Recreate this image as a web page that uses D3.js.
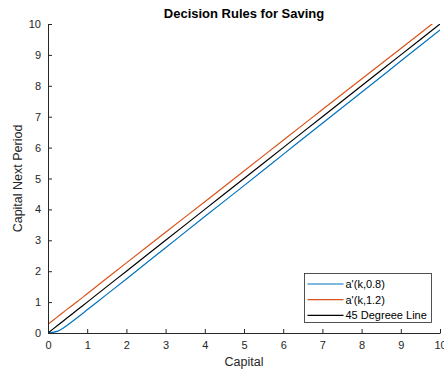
<!DOCTYPE html>
<html>
<head>
<meta charset="utf-8">
<script src="https://cdn.jsdelivr.net/npm/d3@7"></script>
<style>
  html, body { margin: 0; padding: 0; background: #fff; }
  svg { display: block; font-family: "Liberation Sans", Arial, Helvetica, sans-serif; }
</style>
</head>
<body>
<svg id="chart" width="444" height="376"></svg>
<script>
// Capital grid and the two saving decision rules a'(k, z)
const capital   = [0, 0.25, 0.5, 0.75, 1, 1.5, 2, 3, 4, 5, 6, 7, 8, 9, 10];
const ruleLow   = [0, 0.06, 0.26, 0.50, 0.75, 1.25, 1.75, 2.76, 3.77, 4.77, 5.78, 6.79, 7.79, 8.80, 9.81];
const ruleHigh  = [0.28, 0.53, 0.78, 1.02, 1.27, 1.77, 2.27, 3.26, 4.25, 5.24, 6.24, 7.23, 8.22, 9.21, 10.20];
const diagonal  = [0, 0.25, 0.5, 0.75, 1, 1.5, 2, 3, 4, 5, 6, 7, 8, 9, 10];

const seriesNames  = ["a'(k,0.8)", "a'(k,1.2)", "45 Degreee Line"];
const seriesColors = ["#0072BD", "#D95319", "#000000"];
const xTicks = [0, 1, 2, 3, 4, 5, 6, 7, 8, 9, 10];
const yTicks = [0, 1, 2, 3, 4, 5, 6, 7, 8, 9, 10];

const svg = d3.select("#chart");
const plot = { left: 48, right: 440, top: 24, bottom: 333 };
const axisColor = "#262626";

const x = d3.scaleLinear().domain([0, 10]).range([plot.left, plot.right]);
const y = d3.scaleLinear().domain([0, 10]).range([plot.bottom, plot.top]);

svg.append("rect").attr("width", 444).attr("height", 376).attr("fill", "#fff");

svg.append("defs").append("clipPath").attr("id", "plotClip")
  .append("rect")
  .attr("x", plot.left).attr("y", plot.top)
  .attr("width", plot.right - plot.left).attr("height", plot.bottom - plot.top);

// Lines
const series = [ruleLow, ruleHigh, diagonal];
const line = d3.line().curve(d3.curveMonotoneX);
const lines = svg.append("g").attr("clip-path", "url(#plotClip)");
series.forEach((vals, i) => {
  lines.append("path")
    .attr("d", line(capital.map((k, j) => [x(k), y(vals[j])])))
    .attr("fill", "none")
    .attr("stroke", seriesColors[i])
    .attr("stroke-width", 1.2);
});

// Axes (ticks point inward)
const xAxis = d3.axisBottom(x).tickValues(xTicks).tickSizeInner(-4).tickSizeOuter(0).tickPadding(8);
const yAxis = d3.axisLeft(y).tickValues(yTicks).tickSizeInner(-4).tickSizeOuter(0).tickPadding(7);

const gx = svg.append("g").attr("transform", `translate(0,${plot.bottom})`).call(xAxis);
const gy = svg.append("g").attr("transform", `translate(${plot.left},0)`).call(yAxis);
[gx, gy].forEach(g => {
  g.select(".domain").attr("stroke", axisColor).attr("stroke-width", 1);
  g.selectAll(".tick line").attr("stroke", axisColor);
  g.selectAll(".tick text").attr("fill", axisColor)
    .style("font-size", "11px").style("font-family", "Liberation Sans, Arial, sans-serif");
});

// Title and axis labels
svg.append("text")
  .attr("x", (plot.left + plot.right) / 2).attr("y", 18)
  .attr("text-anchor", "middle")
  .style("font-size", "13px").style("font-weight", "bold")
  .attr("fill", "#000")
  .text("Decision Rules for Saving");

svg.append("text")
  .attr("x", (plot.left + plot.right) / 2).attr("y", 366)
  .attr("text-anchor", "middle")
  .style("font-size", "12.5px")
  .attr("fill", axisColor)
  .text("Capital");

svg.append("text")
  .attr("transform", `translate(22,${(plot.top + plot.bottom) / 2}) rotate(-90)`)
  .attr("text-anchor", "middle")
  .style("font-size", "12.5px")
  .attr("fill", axisColor)
  .text("Capital Next Period");

// Legend
const legend = svg.append("g");
legend.append("rect")
  .attr("x", 304.5).attr("y", 273.5).attr("width", 127).attr("height", 49)
  .attr("fill", "#fff").attr("stroke", axisColor).attr("stroke-width", 0.8);
seriesNames.forEach((name, i) => {
  const cy = 284 + i * 15.7;
  legend.append("line")
    .attr("x1", 307.5).attr("x2", 343.5).attr("y1", cy).attr("y2", cy)
    .attr("stroke", seriesColors[i]).attr("stroke-width", 1.2);
  legend.append("text")
    .attr("x", 345.5).attr("y", cy + 4)
    .style("font-size", "11px")
    .attr("fill", "#000")
    .text(name);
});
</script>
</body>
</html>
